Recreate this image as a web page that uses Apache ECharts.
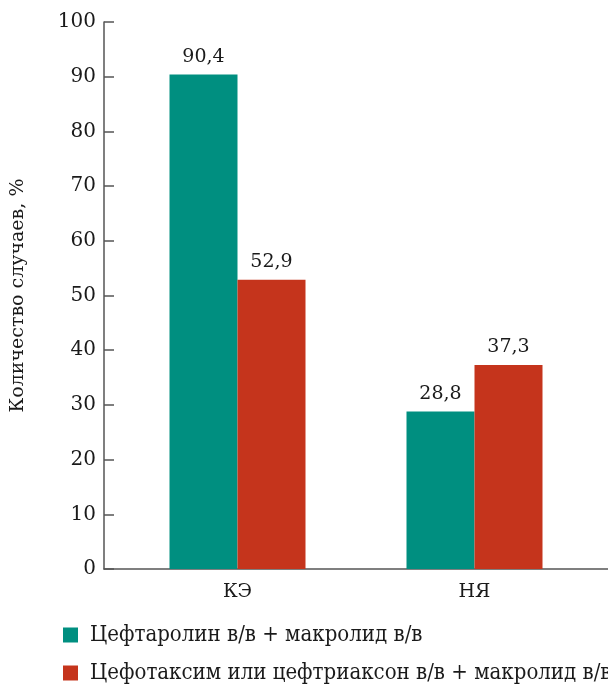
<!DOCTYPE html>
<html><head><meta charset="utf-8">
<script src="https://cdn.jsdelivr.net/npm/echarts@6/dist/echarts.min.js"></script>
<style>html,body{margin:0;padding:0;background:#fff}#c{width:608px;height:684px}</style>
</head><body><div id="c"></div>
<script>
const categories = ['КЭ', 'НЯ'];
const seriesNames = ['Цефтаролин в/в + макролид в/в', 'Цефотаксим или цефтриаксон в/в + макролид в/в'];
const ceftaroline = [90.4, 28.8];
const cefotaxime = [52.9, 37.3];
const yTicks = [0, 10, 20, 30, 40, 50, 60, 70, 80, 90, 100];
const colors = ['#008F80', '#C5341C'];
const FONT = 'DejaVu Serif';
const LFONT = '"DejaVu Serif Condensed", "DejaVu Serif"';
const TXT = '#1a1a1a';
const chart = echarts.init(document.getElementById('c'));
const lbl = {show: true, position: 'top', distance: 8, color: TXT, fontFamily: FONT, fontSize: 19,
  formatter: p => String(p.value).replace('.', ',')};
const legendBase = {orient: 'vertical', left: 63, padding: 0, itemWidth: 15, itemHeight: 15, icon: 'rect',
  textStyle: {color: TXT, fontFamily: LFONT, fontSize: 22, padding: [0, 0, 0, 7]}};
chart.setOption({
  animation: false,
  textStyle: {fontFamily: FONT},
  grid: [
    {left: 119, width: 474, top: 22, bottom: 115},
    {left: 104, right: 0, top: 22, bottom: 115}
  ],
  xAxis: [
    {type: 'category', gridIndex: 0, data: categories,
     axisLine: {show: false}, axisTick: {show: false},
     axisLabel: {color: TXT, fontFamily: FONT, fontSize: 19, margin: 14}},
    {type: 'value', gridIndex: 1, min: 0, max: 1,
     axisLine: {show: true, lineStyle: {color: '#555', width: 1.5}},
     axisTick: {show: false}, axisLabel: {show: false}, splitLine: {show: false}}
  ],
  yAxis: [
    {type: 'value', gridIndex: 0, min: 0, max: 100, interval: 10, show: false},
    {type: 'value', gridIndex: 1, min: yTicks[0], max: yTicks[yTicks.length - 1], interval: 10,
     name: 'Количество случаев, %', nameLocation: 'middle', nameGap: 76, nameRotate: 90,
     nameTextStyle: {color: TXT, fontFamily: FONT, fontSize: 19},
     axisLine: {show: true, lineStyle: {color: '#555', width: 1.5}},
     axisTick: {show: true, inside: true, length: 10, lineStyle: {color: '#555', width: 1.5}},
     axisLabel: {color: TXT, fontFamily: FONT, fontSize: 20, margin: 8},
     splitLine: {show: false}}
  ],
  legend: [
    Object.assign({}, legendBase, {top: 624, data: [seriesNames[0]]}),
    Object.assign({}, legendBase, {top: 662, data: [seriesNames[1]]})
  ],
  series: [
    {name: seriesNames[0], type: 'bar', xAxisIndex: 0, yAxisIndex: 0, data: ceftaroline,
     barWidth: 68, barGap: '0%', itemStyle: {color: colors[0]}, label: lbl},
    {name: seriesNames[1], type: 'bar', xAxisIndex: 0, yAxisIndex: 0, data: cefotaxime,
     barWidth: 68, barGap: '0%', itemStyle: {color: colors[1]}, label: lbl}
  ]
});
</script></body></html>
